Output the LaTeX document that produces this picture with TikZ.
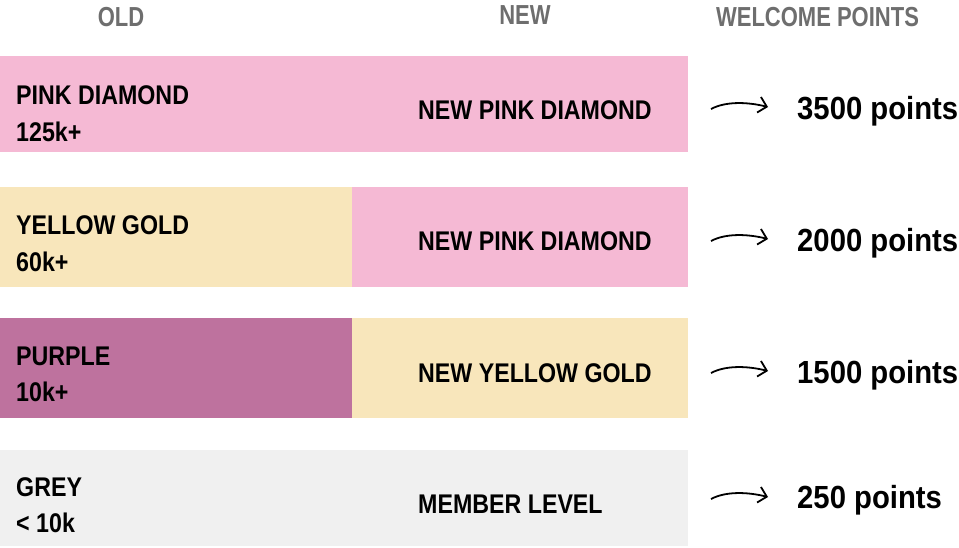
\documentclass[tikz,border=0pt]{standalone}
\usepackage{fontspec}
\usetikzlibrary{arrows.meta}
\newfontfamily\hdfont[FakeStretch=0.8]{Liberation Sans}
\newfontfamily\lbfont[FakeStretch=0.86]{Liberation Sans}
\newfontfamily\ptfont[FakeStretch=0.915]{Liberation Sans}
\definecolor{pinkc}{HTML}{F5B9D4}
\definecolor{yellowc}{HTML}{F8E6BB}
\definecolor{purplec}{HTML}{BE729E}
\definecolor{greyc}{HTML}{F0F0F0}
\definecolor{headc}{HTML}{6E6E6E}
\tikzset{
  hd/.style={font=\hdfont\bfseries\fontsize{27.5}{27.5}\selectfont, text=headc, anchor=base, inner sep=0pt},
  lb/.style={font=\lbfont\bfseries\fontsize{27}{27}\selectfont, anchor=base west, inner sep=0pt},
  pt/.style={font=\ptfont\bfseries\fontsize{32}{32}\selectfont, anchor=base west, inner sep=0pt},
  arr/.style={line width=1.8pt, -{Straight Barb[length=8pt,width=16pt,line width=1.8pt]}},
}
\newcommand{\wparrow}[2]{%
  \coordinate (#1s) at (711,#2+2);
  \coordinate (#1e) at (768,#2);
  \draw[arr] (#1s) .. controls (726,#2-6) and (748,#2-5) .. (#1e);
}
\begin{document}
\begin{tikzpicture}[x=1pt,y=-1pt]
\useasboundingbox (0,0) rectangle (959,547);
\fill[white] (0,0) rectangle (959,547);
% headers
\node[hd] (hold) at (121,26) {OLD};
\node[hd] (hnew) at (525,24) {NEW};
\node[hd] (hwp) at (817.5,26) {WELCOME POINTS};
% row 1
\fill[pinkc] (0,56) rectangle (688,152);
\node[lb] (o1) at (16,104) {PINK DIAMOND};
\node[lb] (o1b) at (16,141) {125k+};
\node[lb] (n1) at (418,119) {NEW PINK DIAMOND};
\wparrow{a1}{107}
\node[pt] (p1) at (797,119) {3500 points};
% row 2
\fill[yellowc] (0,187) rectangle (352,287);
\fill[pinkc] (352,187) rectangle (688,287);
\node[lb] (o2) at (16,234) {YELLOW GOLD};
\node[lb] (o2b) at (16,271) {60k+};
\node[lb] (n2) at (418,250) {NEW PINK DIAMOND};
\wparrow{a2}{239}
\node[pt] (p2) at (797,251) {2000 points};
% row 3
\fill[purplec] (0,318) rectangle (352,418);
\fill[yellowc] (352,318) rectangle (688,418);
\node[lb] (o3) at (16,365) {PURPLE};
\node[lb] (o3b) at (16,401) {10k+};
\node[lb] (n3) at (418,382) {NEW YELLOW GOLD};
\wparrow{a3}{371}
\node[pt] (p3) at (797,383) {1500 points};
% row 4
\fill[greyc] (0,450) rectangle (688,546);
\node[lb] (o4) at (16,496) {GREY};
\node[lb] (o4b) at (16,532) {< 10k};
\node[lb] (n4) at (418,513) {MEMBER LEVEL};
\wparrow{a4}{497}
\node[pt] (p4) at (797,508) {250 points};
\end{tikzpicture}
\end{document}
